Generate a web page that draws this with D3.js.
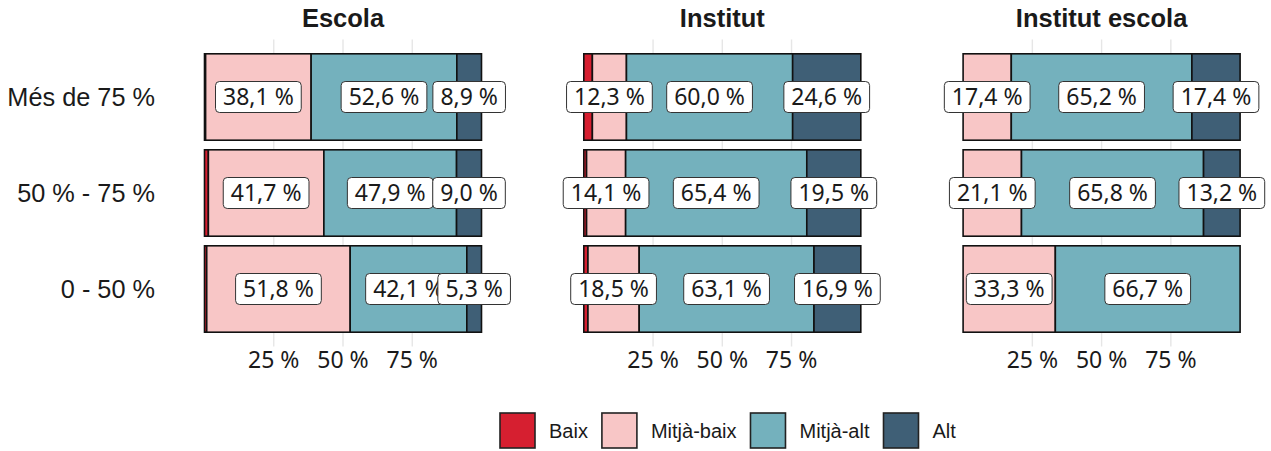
<!DOCTYPE html>
<html>
<head>
<meta charset="utf-8">
<script src="https://cdn.jsdelivr.net/npm/d3@7"></script>
<style>
  body { margin: 0; background: #fff; }
  svg { display: block; }
</style>
</head>
<body>
<svg width="1271" height="451"></svg>
<script>
// data, rows top -> bottom, one inner array per panel
const panels = ["Escola", "Institut", "Institut escola"];
const rows = ["Més de 75 %", "50 % - 75 %", "0 - 50 %"];
const levels = ["Baix", "Mitjà-baix", "Mitjà-alt", "Alt"];
const baix      = [[0.4, 1.4, 0.8], [3.1, 1.0, 1.5], [0, 0, 0]];
const mitjaBaix = [[38.1, 41.7, 51.8], [12.3, 14.1, 18.5], [17.4, 21.1, 33.3]];
const mitjaAlt  = [[52.6, 47.9, 42.1], [60.0, 65.4, 63.1], [65.2, 65.8, 66.7]];
const alt       = [[8.9, 9.0, 5.3], [24.6, 19.5, 16.9], [17.4, 13.2, 0]];
const xTicks = [0.25, 0.5, 0.75];
const colors = ["#d61f30", "#f8c6c6", "#74b1bd", "#3f5f76"];

const series = [baix, mitjaBaix, mitjaAlt, alt];

const svg = d3.select("svg");
const ca = d3.formatLocale({ decimal: ",", thousands: ".", grouping: [3], currency: ["", " €"], percent: "\u00a0%" });
const fmtLabel = ca.format(".1%");
const fmtTick = ca.format(".0%");

const panelW = 277, panelStep = 379.3, panelX0 = 204.5;
const plotTop = 39.4, plotBottom = 346.6;

const y = d3.scaleBand().domain(rows).range([plotTop, plotBottom]).paddingInner(0.1).paddingOuter(0.15);
const color = d3.scaleOrdinal().domain(levels).range(colors);

const stack = d3.stack().keys(levels).offset(d3.stackOffsetExpand);

// row labels
svg.append("g").selectAll("text")
    .data(rows)
    .enter().append("text")
    .attr("x", 155)
    .attr("y", d => y(d) + y.bandwidth() / 2)
    .attr("dy", "0.35em")
    .attr("text-anchor", "end")
    .style("font-family", "Liberation Sans, Arial, sans-serif")
    .style("font-size", "25.3px")
    .style("fill", "#1a1a1a")
    .text(d => d);

panels.forEach(function(p, pi) {
    const x = d3.scaleLinear().domain([0, 1]).range([panelX0 + pi * panelStep, panelX0 + pi * panelStep + panelW]);
    const g = svg.append("g");

    const table = rows.map((r, ri) => {
        const o = { row: r };
        levels.forEach((l, li) => o[l] = series[li][pi][ri]);
        return o;
    });
    const stacked = stack(table);

    // gridlines
    g.selectAll(".grid")
        .data(xTicks)
        .enter().append("line")
        .attr("x1", d => x(d)).attr("x2", d => x(d))
        .attr("y1", plotTop).attr("y2", plotBottom)
        .attr("stroke", "#e6e6e6")
        .attr("stroke-width", 1.4);

    // tick labels
    g.selectAll(".tick")
        .data(xTicks)
        .enter().append("text")
        .attr("x", d => x(d))
        .attr("y", 368)
        .attr("text-anchor", "middle")
        .style("font-family", "Noto Sans, Open Sans, sans-serif")
        .style("font-size", "23px")
        .style("fill", "#1a1a1a")
        .text(d => fmtTick(d));

    // title
    g.append("text")
        .attr("x", x(0.5))
        .attr("y", 27)
        .attr("text-anchor", "middle")
        .style("font-family", "Liberation Sans, Arial, sans-serif")
        .style("font-size", "25.5px")
        .style("font-weight", "bold")
        .style("fill", "#1a1a1a")
        .text(p);

    // bars
    stacked.forEach(function(s) {
        g.append("g").selectAll("rect")
            .data(s.filter(d => d.data[s.key] > 0))
            .enter().append("rect")
            .attr("x", d => x(d[0]))
            .attr("width", d => x(d[1]) - x(d[0]))
            .attr("y", d => y(d.data.row))
            .attr("height", y.bandwidth())
            .attr("fill", color(s.key))
            .attr("stroke", "#111")
            .attr("stroke-width", 1.6);
    });

    // labels
    stacked.forEach(function(s) {
        const lab = g.append("g").selectAll("g")
            .data(s.filter(d => d.data[s.key] >= 5))
            .enter().append("g")
            .attr("transform", d => "translate(" + x((d[0] + d[1]) / 2) + "," + (y(d.data.row) + y.bandwidth() / 2) + ")");
        lab.append("rect");
        const txt = lab.append("text")
            .attr("text-anchor", "middle")
            .attr("dy", "0.36em")
            .style("font-family", "Noto Sans, Open Sans, sans-serif")
            .style("font-size", "23px")
            .style("fill", "#1a1a1a")
            .text(d => fmtLabel(d.data[s.key] / 100));
        txt.each(function() {
            const w = this.getComputedTextLength();
            d3.select(this.parentNode).select("rect")
                .attr("x", -w / 2 - 7.5).attr("width", w + 15)
                .attr("y", -15.5).attr("height", 31)
                .attr("rx", 4)
                .attr("fill", "#fff")
                .attr("stroke", "#333")
                .attr("stroke-width", 1);
        });
    });
});

// legend
const legend = svg.append("g");
let lx = 500;
levels.forEach(function(l) {
    legend.append("rect")
        .attr("x", lx).attr("y", 413)
        .attr("width", 35).attr("height", 35)
        .attr("fill", color(l))
        .attr("stroke", "#222")
        .attr("stroke-width", 1.6);
    const t = legend.append("text")
        .attr("x", lx + 49)
        .attr("y", 430.5)
        .attr("dy", "0.35em")
        .style("font-family", "Liberation Sans, Arial, sans-serif")
        .style("font-size", "20px")
        .style("fill", "#1a1a1a")
        .text(l);
    lx += 49 + t.node().getComputedTextLength() + 14;
});
</script>
</body>
</html>
